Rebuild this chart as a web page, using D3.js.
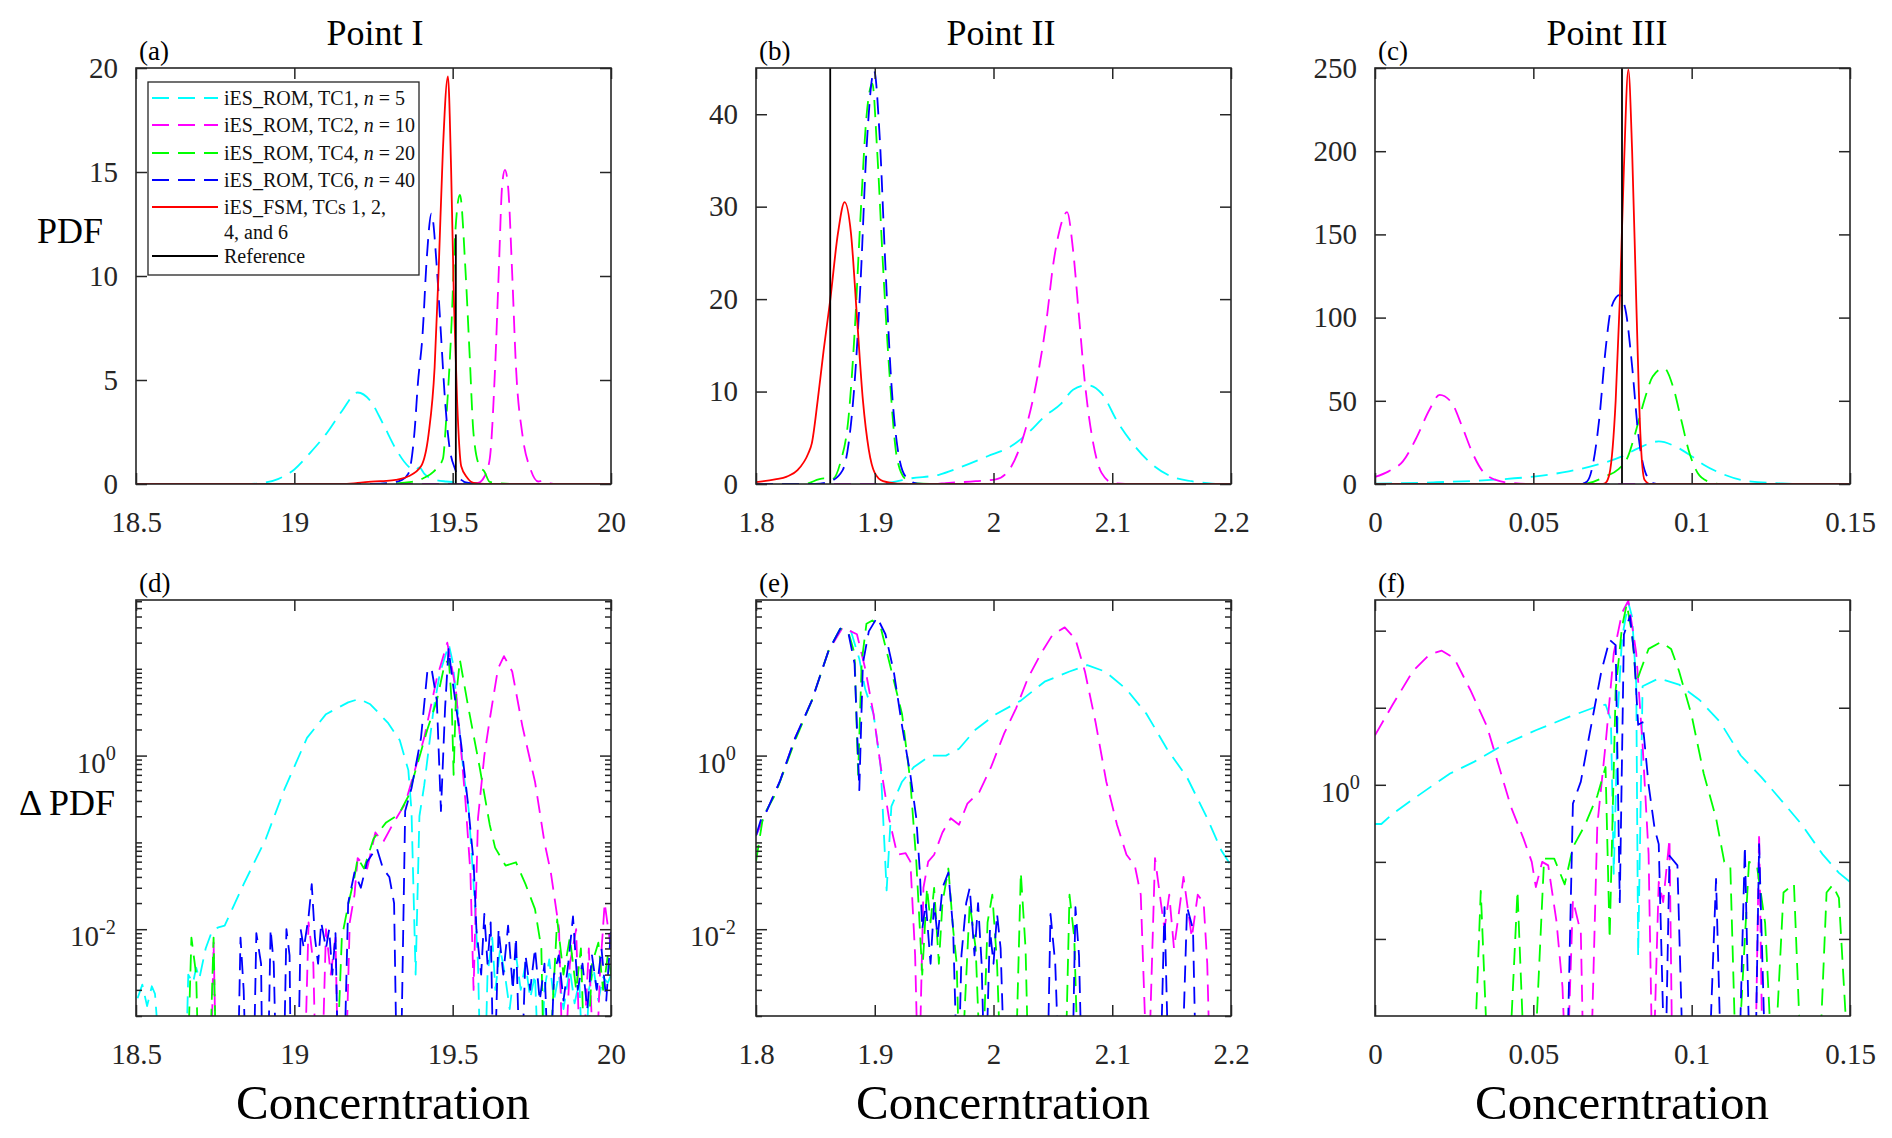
<!DOCTYPE html>
<html>
<head>
<meta charset="utf-8">
<script src="https://cdnjs.cloudflare.com/ajax/libs/d3/7.8.5/d3.min.js"></script>
<style>
  body { margin: 0; background: #fff; }
  svg text { font-family: "Liberation Serif", "Times New Roman", serif; }
</style>
</head>
<body>
<svg></svg>
<script>
// ---------- data ----------
// top row: PDF, bottom row: delta PDF (log axis). 1e-4 = curve drops out below the axis
var aTC1 = [[18.5,0],[18.85,0],[18.9,0.05],[18.95,0.25],[19.0,0.7],[19.05,1.5],[19.1,2.4],[19.15,3.5],[19.2,4.4],[19.24,4.0],[19.28,2.9],[19.32,1.7],[19.36,0.85],[19.38,0.65],[19.395,0.8],[19.41,0.5],[19.44,0.22],[19.48,0.12],[19.52,0.08],[19.56,0.02],[19.6,0],[20,0]];
var aTC2 = [[18.5,0],[19.55,0],[19.58,0.05],[19.6,0.35],[19.617,1.2],[19.634,5.6],[19.646,10.4],[19.656,14.3],[19.665,15.1],[19.675,14.3],[19.688,10.1],[19.7,5.6],[19.72,2.4],[19.746,0.7],[19.77,0.12],[19.785,0.15],[19.8,0.05],[19.83,0],[20,0]];
var aTC4 = [[18.5,0],[19.25,0],[19.3,0.02],[19.37,0.1],[19.41,0.3],[19.44,0.6],[19.469,1.2],[19.48,3.2],[19.495,7.2],[19.508,12],[19.523,13.9],[19.54,10.4],[19.553,6.4],[19.566,2.4],[19.585,0.85],[19.6,0.6],[19.617,0.1],[19.65,0.03],[19.7,0],[20,0]];
var aTC6 = [[18.5,0],[19.25,0],[19.3,0.05],[19.34,0.2],[19.36,0.5],[19.38,2.6],[19.39,4.8],[19.405,7.2],[19.418,10.8],[19.433,13.0],[19.45,10.4],[19.463,7.2],[19.476,4.0],[19.488,2.0],[19.508,0.7],[19.527,0.2],[19.55,0.05],[19.6,0],[20,0]];
var aFSM = [[18.5,0],[19.15,0],[19.2,0.05],[19.256,0.13],[19.29,0.15],[19.32,0.2],[19.36,0.37],[19.4,0.85],[19.424,2.4],[19.443,5.6],[19.456,10.4],[19.469,16.0],[19.485,19.6],[19.495,15.2],[19.504,8.8],[19.514,4.0],[19.527,0.85],[19.546,0.3],[19.566,0.05],[19.6,0],[20,0]];

var bTC1 = [[1.8,0],[1.9,0],[1.915,0.2],[1.93,0.6],[1.954,1.0],[1.974,1.9],[1.995,3.0],[2.015,4.1],[2.029,5.5],[2.043,7.3],[2.057,8.7],[2.067,10.2],[2.079,10.7],[2.091,9.8],[2.105,6.6],[2.119,4.1],[2.132,2.3],[2.15,0.8],[2.167,0.3],[2.184,0.05],[2.2,0]];
var bTC2 = [[1.8,0],[1.95,0],[1.96,0.1],[1.985,0.3],[2.002,0.5],[2.015,1.9],[2.026,5.5],[2.036,10.9],[2.045,18.1],[2.05,23.5],[2.055,27.1],[2.062,29.4],[2.067,25.3],[2.072,18.1],[2.077,10.9],[2.084,4.4],[2.091,1.2],[2.101,0.1],[2.12,0],[2.2,0]];
var bTC4 = [[1.8,0],[1.84,0],[1.857,0.6],[1.864,0.5],[1.871,2.3],[1.878,7.3],[1.883,16.3],[1.888,28.9],[1.893,39.7],[1.898,43.3],[1.902,36.1],[1.907,23.5],[1.912,12.7],[1.919,2.6],[1.926,0.5],[1.933,0.1],[1.95,0],[2.2,0]];
var bTC6 = [[1.8,0],[1.85,0],[1.8625,0.3],[1.873,1.5],[1.878,4.4],[1.883,10.9],[1.888,21.7],[1.893,36.1],[1.8995,44.7],[1.904,37.9],[1.909,23.5],[1.914,10.9],[1.919,4.1],[1.926,0.8],[1.936,0.05],[1.95,0],[2.2,0]];
var bFSM = [[1.8,0.2],[1.816,0.5],[1.826,0.8],[1.835,1.5],[1.844,3.3],[1.847,4.4],[1.852,9.1],[1.857,14.5],[1.8625,19.9],[1.869,27.1],[1.8746,30.5],[1.88,27.1],[1.885,18.1],[1.89,9.1],[1.895,3.7],[1.9,1.2],[1.907,0.3],[1.919,0.05],[1.94,0],[2.2,0]];

var cTC1 = [[0,0.2],[0.0185,1.0],[0.0379,2.6],[0.0508,4.6],[0.0612,7.6],[0.0702,11.6],[0.078,16.6],[0.0832,21.6],[0.0896,25.6],[0.0948,22.6],[0.0993,17.6],[0.1038,11.6],[0.1103,5.6],[0.118,1.6],[0.128,0.4],[0.135,0],[0.15,0]];
var cTC2 = [[0,4.2],[0.0043,7.6],[0.0088,13.6],[0.0133,28.6],[0.0172,44.6],[0.0204,53.6],[0.0243,48.6],[0.0275,34.6],[0.0308,18.6],[0.034,7.6],[0.0379,2.6],[0.043,0.6],[0.05,0],[0.15,0]];
var cTC4 = [[0,0],[0.065,0],[0.0676,0.6],[0.0728,4.6],[0.0767,8.6],[0.0799,16.6],[0.0825,32.6],[0.0851,50.6],[0.0877,64.6],[0.0913,69.6],[0.0941,58.6],[0.0967,38.6],[0.0993,18.6],[0.1019,6.6],[0.1051,1.6],[0.109,0],[0.15,0]];
var cTC6 = [[0,0],[0.065,0],[0.067,1.6],[0.0689,12.6],[0.0709,40.6],[0.0728,80.6],[0.0747,106.6],[0.0773,113.6],[0.0793,102.6],[0.0812,70.6],[0.0831,30.6],[0.0851,8.6],[0.0877,0.6],[0.09,0],[0.15,0]];
var cFSM = [[0,0],[0.072,0],[0.0728,0.6],[0.0741,6.6],[0.076,50],[0.0773,110],[0.0786,190],[0.08,249],[0.0812,200],[0.0825,110],[0.0838,30],[0.0851,2.6],[0.087,0],[0.15,0]];

var dTC1 = [[18.505,0.0016],[18.52,0.0023],[18.535,0.0013],[18.55,0.0022],[18.56,0.0018],[18.585,1e-4],[18.655,1e-4],[18.665,0.003],[18.68,0.0024],[18.69,0.0036],[18.7,0.0027],[18.72,0.006],[18.74,0.0095],[18.76,0.0105],[18.78,0.011],[18.84,0.033],[18.91,0.11],[18.97,0.42],[19.04,1.6],[19.1,3.0],[19.17,4.1],[19.205,4.5],[19.24,3.9],[19.295,2.4],[19.333,1.5],[19.36,0.68],[19.37,0.23],[19.383,0.003],[19.395,0.2],[19.41,0.45],[19.44,3.5],[19.46,9],[19.488,19],[19.5,12],[19.515,3.5],[19.535,0.6],[19.55,0.25],[19.565,0.04],[19.58,0.004],[19.59,1e-4],[19.6,1e-4],[19.61,0.003],[19.625,0.008],[19.635,0.002],[19.65,0.006],[19.665,0.003],[19.68,0.0012],[19.7,0.005],[19.715,0.002],[19.73,0.004],[19.745,0.0016],[19.76,0.003],[19.775,1e-4],[19.79,0.002],[19.805,0.0045],[19.82,0.0015],[19.835,0.003],[19.85,0.0012],[19.87,0.0035],[19.885,0.0014],[19.9,0.0025],[19.915,1e-4],[19.93,0.002],[19.945,0.0035],[19.96,0.0015],[19.975,0.0028],[19.99,0.0024],[20,0.003]];
var dTC2 = [[18.5,1e-4],[18.735,1e-4],[18.745,0.007],[18.755,1e-4],[19.03,1e-4],[19.045,0.012],[19.06,0.004],[19.07,1e-4],[19.085,1e-4],[19.1,0.01],[19.115,0.003],[19.13,0.008],[19.14,1e-4],[19.16,1e-4],[19.175,0.012],[19.19,0.025],[19.2,0.066],[19.23,0.05],[19.256,0.13],[19.28,0.1],[19.31,0.16],[19.35,0.28],[19.37,0.5],[19.41,1.6],[19.45,7.8],[19.483,20],[19.51,5.8],[19.54,0.31],[19.556,0.045],[19.566,0.002],[19.58,0.19],[19.6,1.0],[19.617,2.6],[19.643,10],[19.662,14],[19.688,9.3],[19.72,2.2],[19.76,0.5],[19.79,0.1],[19.81,0.045],[19.836,0.01],[19.85,1e-4],[19.87,0.004],[19.89,0.01],[19.905,1e-4],[19.93,0.006],[19.95,1e-4],[19.965,0.003],[19.98,0.02],[19.995,0.008],[20,0.006]];
var dTC4 = [[18.5,1e-4],[18.66,1e-4],[18.675,0.008],[18.69,0.003],[18.7,1e-4],[18.73,1e-4],[18.745,0.008],[18.755,1e-4],[19.13,1e-4],[19.15,0.008],[19.17,0.019],[19.19,0.04],[19.2,0.066],[19.22,0.05],[19.25,0.11],[19.29,0.17],[19.33,0.21],[19.36,0.34],[19.38,0.62],[19.42,2.0],[19.45,4.3],[19.475,11.5],[19.488,12.6],[19.497,4],[19.503,0.6],[19.51,4.5],[19.523,12.6],[19.55,3.5],[19.585,0.74],[19.617,0.16],[19.634,0.087],[19.667,0.054],[19.7,0.059],[19.73,0.033],[19.76,0.017],[19.78,0.006],[19.79,1e-4],[19.8,1e-4],[19.83,0.013],[19.85,0.003],[19.87,0.008],[19.89,0.002],[19.905,0.006],[19.92,1e-4],[19.94,0.004],[19.96,0.007],[19.975,0.002],[19.99,0.005],[20,0.003]];
var dTC6 = [[18.5,1e-4],[18.82,1e-4],[18.83,0.008],[18.84,0.002],[18.85,1e-4],[18.87,1e-4],[18.88,0.009],[18.895,0.004],[18.9,1e-4],[18.915,1e-4],[18.925,0.01],[18.935,0.004],[18.945,1e-4],[18.965,1e-4],[18.975,0.01],[18.985,0.005],[18.99,1e-4],[19.01,1e-4],[19.02,0.01],[19.03,0.006],[19.045,0.014],[19.055,0.033],[19.065,0.008],[19.075,0.004],[19.085,0.012],[19.1,0.006],[19.11,0.01],[19.12,0.003],[19.13,0.009],[19.14,1e-4],[19.155,1e-4],[19.17,0.02],[19.19,0.045],[19.21,0.03],[19.23,0.06],[19.26,0.087],[19.28,0.05],[19.3,0.04],[19.315,0.02],[19.325,1e-4],[19.335,1e-4],[19.35,0.23],[19.37,0.42],[19.4,1.6],[19.42,9.3],[19.433,10.2],[19.45,4.3],[19.463,0.23],[19.476,3.5],[19.487,17],[19.5,7.1],[19.527,1.35],[19.547,0.31],[19.566,0.06],[19.575,0.01],[19.59,0.003],[19.6,0.015],[19.61,0.004],[19.62,0.012],[19.63,1e-4],[19.645,0.01],[19.66,0.003],[19.675,0.011],[19.69,0.002],[19.7,0.008],[19.715,1e-4],[19.73,0.005],[19.745,0.002],[19.76,0.006],[19.775,0.0015],[19.79,0.004],[19.805,1e-4],[19.82,0.003],[19.835,0.005],[19.85,0.0015],[19.865,0.004],[19.88,0.014],[19.895,0.002],[19.91,0.004],[19.925,0.0012],[19.94,0.005],[19.955,0.002],[19.97,0.006],[19.985,0.0015],[20,0.01]];

var eTC1 = [[1.8,0.12],[1.809,0.23],[1.82,0.5],[1.833,1.6],[1.847,4.3],[1.861,16],[1.871,29],[1.88,27],[1.887,13],[1.892,5.8],[1.899,3],[1.905,0.75],[1.91,0.028],[1.914,0.26],[1.923,0.5],[1.933,0.74],[1.947,1.0],[1.96,1.0],[1.971,1.2],[1.985,2.0],[2.002,3.0],[2.023,4.3],[2.043,7.1],[2.064,9.3],[2.079,11],[2.094,9.3],[2.112,5.8],[2.129,3.0],[2.146,1.2],[2.163,0.56],[2.18,0.19],[2.192,0.08],[2.2,0.054]];
var eTC2 = [[1.8,0.12],[1.809,0.23],[1.82,0.5],[1.833,1.6],[1.847,4.3],[1.861,16],[1.873,30],[1.885,25],[1.892,10],[1.899,3],[1.905,0.75],[1.912,0.19],[1.919,0.072],[1.926,0.075],[1.93,0.06],[1.934,0.005],[1.937,1e-4],[1.941,0.03],[1.945,0.06],[1.95,0.072],[1.957,0.13],[1.964,0.19],[1.971,0.16],[1.978,0.28],[1.988,0.38],[1.998,0.74],[2.009,1.8],[2.019,3.5],[2.029,7.8],[2.04,15],[2.05,25],[2.06,30],[2.069,22],[2.077,9.3],[2.086,2.4],[2.095,0.5],[2.104,0.16],[2.112,0.072],[2.119,0.054],[2.124,0.025],[2.13,1e-4],[2.136,0.066],[2.141,0.02],[2.144,0.01],[2.148,0.025],[2.152,0.006],[2.156,0.015],[2.16,0.04],[2.163,0.02],[2.167,0.008],[2.172,0.025],[2.177,0.02],[2.18,0.004],[2.183,1e-4],[2.2,1e-4]];
var eTC4 = [[1.8,0.06],[1.806,0.2],[1.816,0.35],[1.833,1.5],[1.847,4.3],[1.861,16],[1.871,29],[1.878,26],[1.883,15],[1.886,0.6],[1.889,12],[1.893,33],[1.898,36],[1.905,30],[1.911,14],[1.923,3],[1.93,0.5],[1.935,0.06],[1.94,0.003],[1.944,0.03],[1.947,0.012],[1.95,0.03],[1.954,0.004],[1.957,0.02],[1.962,0.05],[1.966,0.01],[1.969,0.004],[1.972,1e-4],[1.98,0.02],[1.985,0.006],[1.99,1e-4],[1.995,0.012],[1.999,0.025],[2.003,0.004],[2.007,1e-4],[2.018,1e-4],[2.023,0.045],[2.027,0.006],[2.03,1e-4],[2.06,1e-4],[2.064,0.025],[2.068,0.008],[2.072,1e-4],[2.2,1e-4]];
var eTC6 = [[1.8,0.12],[1.804,0.18],[1.809,0.23],[1.82,0.5],[1.833,1.6],[1.847,4.3],[1.861,16],[1.871,29],[1.878,25],[1.883,11.5],[1.887,0.4],[1.89,11.5],[1.895,27],[1.902,39],[1.909,25],[1.916,9.3],[1.923,2.2],[1.93,0.6],[1.935,0.19],[1.938,0.045],[1.94,0.01],[1.943,0.02],[1.947,0.004],[1.95,0.02],[1.953,0.008],[1.957,0.03],[1.962,0.045],[1.966,0.01],[1.97,1e-4],[1.973,0.005],[1.977,0.02],[1.98,0.03],[1.984,0.005],[1.987,0.02],[1.99,0.004],[1.993,1e-4],[1.997,0.01],[2.0,0.004],[2.003,0.015],[2.006,0.006],[2.01,1e-4],[2.045,1e-4],[2.048,0.015],[2.052,0.004],[2.056,1e-4],[2.066,1e-4],[2.069,0.018],[2.072,0.005],[2.075,1e-4],[2.14,1e-4],[2.144,0.018],[2.148,1e-4],[2.158,1e-4],[2.163,0.018],[2.168,0.01],[2.171,1e-4],[2.2,1e-4]];

var fTC1 = [[0,0.31],[0.002,0.31],[0.0056,0.42],[0.012,0.65],[0.0185,1.0],[0.0237,1.4],[0.0314,2.0],[0.0405,3.3],[0.0508,5.1],[0.0612,7.6],[0.069,10],[0.0728,11],[0.0745,7],[0.0754,0.07],[0.0767,9],[0.078,80],[0.08,230],[0.0812,150],[0.0825,20],[0.0831,0.006],[0.0845,19],[0.0896,24],[0.096,20],[0.1025,12.6],[0.109,6.5],[0.1155,2.4],[0.122,1.26],[0.128,0.65],[0.1349,0.3],[0.1413,0.126],[0.1465,0.072],[0.15,0.055]];
var fTC2 = [[0,4.4],[0.0056,11],[0.012,30],[0.0172,49],[0.0211,55],[0.025,44],[0.0301,17],[0.0353,5.8],[0.0392,1.7],[0.043,0.51],[0.0469,0.2],[0.0495,0.1],[0.0508,0.047],[0.0528,0.1],[0.0547,0.09],[0.0573,0.017],[0.0592,0.0024],[0.0605,1e-4],[0.0625,0.032],[0.065,0.012],[0.066,1e-4],[0.068,1e-4],[0.0702,0.3],[0.0728,3.3],[0.0754,51],[0.078,170],[0.08,245],[0.0825,51],[0.0845,3.3],[0.0864,0.126],[0.0877,1e-4],[0.0896,0.055],[0.091,0.03],[0.093,0.2],[0.094,1e-4],[0.12,1e-4],[0.1213,0.24],[0.1225,1e-4],[0.15,1e-4]];
var fTC4 = [[0,1e-4],[0.031,1e-4],[0.0334,0.042],[0.036,1e-4],[0.042,1e-4],[0.045,0.042],[0.0475,1e-4],[0.05,1e-4],[0.0534,0.11],[0.0566,0.11],[0.0599,0.051],[0.0625,0.155],[0.0663,0.3],[0.0702,0.72],[0.0728,1.7],[0.0741,0.01],[0.076,17],[0.078,112],[0.0795,220],[0.0812,90],[0.0825,21],[0.0838,30],[0.0864,58],[0.0903,71],[0.0935,58],[0.096,30],[0.1,7.9],[0.1038,1.4],[0.1077,0.37],[0.1103,0.1],[0.1122,0.09],[0.1142,1e-4],[0.1181,0.1],[0.1206,0.09],[0.1232,0.016],[0.1258,1e-4],[0.129,0.04],[0.1323,0.052],[0.1349,1e-4],[0.14,1e-4],[0.1426,0.04],[0.1445,0.05],[0.1465,0.034],[0.15,1e-4]];
var fTC6 = [[0,1e-4],[0.0605,1e-4],[0.0625,0.57],[0.065,1.1],[0.0676,4.2],[0.0715,30],[0.0741,76],[0.076,65],[0.0773,0.03],[0.0786,89],[0.0805,155],[0.0818,51],[0.0831,6],[0.0845,6.5],[0.0864,1.0],[0.0883,0.27],[0.0896,0.17],[0.0916,1e-4],[0.093,0.12],[0.0955,0.09],[0.0975,1e-4],[0.1052,1e-4],[0.1077,0.06],[0.1095,1e-4],[0.1148,1e-4],[0.1168,0.16],[0.1185,1e-4],[0.12,1e-4],[0.1213,0.17],[0.1235,1e-4],[0.15,1e-4]];

// reference concentration and height of the reference line in the PDF panels
var refX = [19.51, 1.8625, 0.078];
var refTop = [12, 45, 250];

// axes
var xDomains = [[18.5, 20], [1.8, 2.2], [0, 0.15]];
var xTicks = [[18.5, 19, 19.5, 20], [1.8, 1.9, 2, 2.1, 2.2], [0, 0.05, 0.1, 0.15]];
var xTickLabels = [["18.5", "19", "19.5", "20"], ["1.8", "1.9", "2", "2.1", "2.2"], ["0", "0.05", "0.1", "0.15"]];
var pdfMax = [20, 45, 250];
var pdfTicks = [[0, 5, 10, 15, 20], [0, 10, 20, 30, 40], [0, 50, 100, 150, 200, 250]];
var dpdfDomains = [[1e-3, 62], [1e-3, 62], [1e-3, 250]];
var dpdfTicks = [[1e-2, 1], [1e-2, 1], [1e-2, 1e-1, 1, 10, 100]];
var dpdfTickLabels = [["-2", "0"], ["-2", "0"], ["", "", "0", "", ""]];

var titles = ["Point I", "Point II", "Point III"];
var panelLetters = [["(a)", "(b)", "(c)"], ["(d)", "(e)", "(f)"]];
var legendLabels = [["iES_ROM, TC1, ", "n", " = 5"], ["iES_ROM, TC2, ", "n", " = 10"], ["iES_ROM, TC4, ", "n", " = 20"], ["iES_ROM, TC6, ", "n", " = 40"], ["iES_FSM, TCs 1, 2,", "", ""], ["Reference", "", ""]];

// ---------- setup ----------
var FONT = "Liberation Serif, Times New Roman, serif";
var axisColor = "#262626";
var dash = "17,9";
var seriesStyle = [
  { color: "#00ffff", dash: dash },
  { color: "#ff00ff", dash: dash },
  { color: "#00ff00", dash: dash },
  { color: "#0000ff", dash: dash },
  { color: "#ff0000", dash: null }
];

var svg = d3.select("svg").attr("width", 1892).attr("height", 1138);
svg.append("rect").attr("width", 1892).attr("height", 1138).attr("fill", "#fff");

var colX = [136, 756, 1375];
var rowY = [68, 600];
var pw = 475, ph = 416;

function styleAxis(a, fontSize) {
  a.attr("font-family", FONT).attr("font-size", fontSize);
  a.select(".domain").remove();
  a.selectAll("line").attr("stroke", axisColor).attr("stroke-width", 1.5);
  a.selectAll("text").attr("fill", axisColor).style("font-family", FONT);
}

function drawPanel(row, col, series, log) {
  var g = svg.append("g").attr("transform", "translate(" + colX[col] + "," + rowY[row] + ")");
  var x = d3.scaleLinear().domain(xDomains[col]).range([0, pw]);
  var y = log
    ? d3.scaleLog().domain(dpdfDomains[col]).range([ph, 0])
    : d3.scaleLinear().domain([0, pdfMax[col]]).range([ph, 0]);

  var clipId = "clip" + row + col;
  g.append("clipPath").attr("id", clipId)
    .append("rect").attr("width", pw).attr("height", ph);

  var line = d3.line()
    .x(function(d) { return x(d[0]); })
    .y(function(d) { return y(d[1]); })
    .curve(log ? d3.curveLinear : d3.curveMonotoneX);

  var plot = g.append("g").attr("clip-path", "url(#" + clipId + ")");
  series.forEach(function(s, i) {
    plot.append("path")
      .attr("d", line(s))
      .attr("fill", "none")
      .attr("stroke", seriesStyle[i].color)
      .attr("stroke-width", 1.8)
      .attr("stroke-dasharray", seriesStyle[i].dash)
      .attr("stroke-linejoin", "round");
  });

  if (!log) {
    plot.append("line")
      .attr("x1", x(refX[col])).attr("x2", x(refX[col]))
      .attr("y1", y(0)).attr("y2", y(refTop[col]))
      .attr("stroke", "#000").attr("stroke-width", 1.8);
  }

  // x axes (ticks point inwards, box style)
  g.append("g").attr("transform", "translate(0," + ph + ")")
    .call(d3.axisBottom(x).tickValues(xTicks[col])
      .tickFormat(function(d, i) { return xTickLabels[col][i]; })
      .tickSizeInner(-11).tickSizeOuter(0).tickPadding(27))
    .call(styleAxis, 29);
  g.append("g")
    .call(d3.axisTop(x).tickValues(xTicks[col]).tickFormat("")
      .tickSizeInner(-11).tickSizeOuter(0))
    .call(styleAxis, 29);

  if (!log) {
    g.append("g")
      .call(d3.axisLeft(y).tickValues(pdfTicks[col]).tickFormat(d3.format("d"))
        .tickSizeInner(-11).tickSizeOuter(0).tickPadding(18))
      .call(styleAxis, 29);
    g.append("g").attr("transform", "translate(" + pw + ",0)")
      .call(d3.axisRight(y).tickValues(pdfTicks[col]).tickFormat("")
        .tickSizeInner(-11).tickSizeOuter(0))
      .call(styleAxis, 29);
  } else {
    // minor ticks only on the panels spanning less than 5 decades
    if (col < 2) {
      var minor = [];
      for (var e = -3; e <= 1; e++) {
        for (var k = 1; k <= 9; k++) {
          var v = k * Math.pow(10, e);
          if (v >= dpdfDomains[col][0] && v <= dpdfDomains[col][1] && dpdfTicks[col].indexOf(v) < 0) minor.push(v);
        }
      }
      g.append("g").call(d3.axisLeft(y).tickValues(minor).tickFormat("").tickSizeInner(-6).tickSizeOuter(0)).call(styleAxis, 29);
      g.append("g").attr("transform", "translate(" + pw + ",0)")
        .call(d3.axisRight(y).tickValues(minor).tickFormat("").tickSizeInner(-6).tickSizeOuter(0)).call(styleAxis, 29);
    }
    var left = g.append("g")
      .call(d3.axisLeft(y).tickValues(dpdfTicks[col]).tickFormat(function() { return ""; })
        .tickSizeInner(-11).tickSizeOuter(0).tickPadding(col < 2 ? 20 : 15))
      .call(styleAxis, 29);
    left.selectAll(".tick text").each(function(d, i) {
      var lab = dpdfTickLabels[col][i];
      if (!lab) return;
      var t = d3.select(this).attr("dy", "0.57em");
      t.append("tspan").text("10");
      t.append("tspan").attr("dy", "-0.62em").attr("font-size", "0.7em").text(lab);
    });
    g.append("g").attr("transform", "translate(" + pw + ",0)")
      .call(d3.axisRight(y).tickValues(dpdfTicks[col]).tickFormat("")
        .tickSizeInner(-11).tickSizeOuter(0))
      .call(styleAxis, 29);
  }

  g.append("rect").attr("width", pw).attr("height", ph)
    .attr("fill", "none").attr("stroke", axisColor).attr("stroke-width", 1.6);

  g.append("text").attr("x", 3).attr("y", -8)
    .attr("font-size", 27).attr("fill", "#000")
    .text(panelLetters[row][col]);

  return g;
}

var gA = drawPanel(0, 0, [aTC1, aTC2, aTC4, aTC6, aFSM], false);
drawPanel(0, 1, [bTC1, bTC2, bTC4, bTC6, bFSM], false);
drawPanel(0, 2, [cTC1, cTC2, cTC4, cTC6, cFSM], false);
drawPanel(1, 0, [dTC1, dTC2, dTC4, dTC6], true);
drawPanel(1, 1, [eTC1, eTC2, eTC4, eTC6], true);
drawPanel(1, 2, [fTC1, fTC2, fTC4, fTC6], true);

// ---------- legend in panel (a) ----------
var leg = gA.append("g").attr("transform", "translate(12,14)");
leg.append("rect").attr("width", 271).attr("height", 193)
  .attr("fill", "#fff").attr("stroke", axisColor).attr("stroke-width", 1.3);
var rowYs = [16, 43, 71, 98, 125, 174];
legendLabels.forEach(function(lab, i) {
  var yy = rowYs[i];
  leg.append("line").attr("x1", 4).attr("x2", 70).attr("y1", yy).attr("y2", yy)
    .attr("stroke", i < 5 ? seriesStyle[i].color : "#000")
    .attr("stroke-width", 1.8)
    .attr("stroke-dasharray", i < 5 ? seriesStyle[i].dash : null);
  var t = leg.append("text").attr("x", 76).attr("y", yy).attr("dy", "0.35em")
    .attr("font-size", 20).attr("fill", "#111");
  t.append("tspan").text(lab[0]);
  if (lab[1]) t.append("tspan").attr("font-style", "italic").text(lab[1]);
  if (lab[2]) t.append("tspan").text(lab[2]);
});
leg.append("text").attr("x", 76).attr("y", 150).attr("dy", "0.35em")
  .attr("font-size", 20).attr("fill", "#111")
  .text("4, and 6");

// ---------- titles and axis labels ----------
var titleX = [375, 1001, 1607];
titles.forEach(function(t, i) {
  svg.append("text").attr("x", titleX[i]).attr("y", 45).attr("text-anchor", "middle")
    .attr("font-size", 36).attr("fill", "#000").text(t);
});
var xLabelX = [383, 1003, 1622];
xLabelX.forEach(function(xx) {
  svg.append("text").attr("x", xx).attr("y", 1119).attr("text-anchor", "middle")
    .attr("font-size", 49).attr("fill", "#000").text("Concerntration");
});
svg.append("text").attr("x", 70).attr("y", 243).attr("text-anchor", "middle")
  .attr("font-size", 36).attr("fill", "#000").text("PDF");
svg.append("text").attr("x", 67).attr("y", 815).attr("text-anchor", "middle")
  .attr("font-size", 36).attr("fill", "#000").text("\u0394 PDF");
</script>
</body>
</html>
